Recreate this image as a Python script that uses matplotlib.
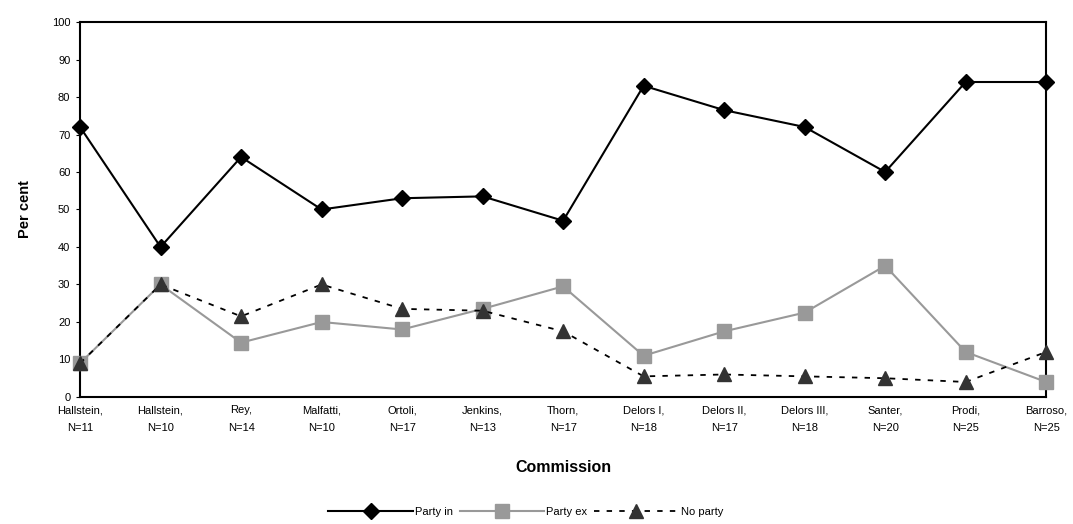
import matplotlib
matplotlib.use("Agg")
import matplotlib.pyplot as plt

plt.rcParams['font.family'] = ['Liberation Sans', 'DejaVu Sans']

commissions = ["Hallstein,\nN=11", "Hallstein,\nN=10", "Rey,\nN=14", "Malfatti,\nN=10",
               "Ortoli,\nN=17", "Jenkins,\nN=13", "Thorn,\nN=17", "Delors I,\nN=18",
               "Delors II,\nN=17", "Delors III,\nN=18", "Santer,\nN=20", "Prodi,\nN=25",
               "Barroso,\nN=25"]
party_in = [72, 40, 64, 50, 53, 53.5, 47, 83, 76.5, 72, 60, 84, 84]
party_ex = [9, 30, 14.5, 20, 18, 23.5, 29.5, 11, 17.5, 22.5, 35, 12, 4]
no_party = [9, 30, 21.5, 30, 23.5, 23, 17.5, 5.5, 6, 5.5, 5, 4, 12]
y_ticks = list(range(0, 101, 10))

fig = plt.figure(figsize=(10.73, 5.24), dpi=100)
ax = fig.add_axes([0.0746, 0.2424, 0.9004, 0.7156])

x = list(range(len(commissions)))
ax.plot(x, party_in, color='black', lw=1.5, marker='D', ms=8, label='Party in', zorder=4, clip_on=False)
ax.plot(x, party_ex, color='#999999', lw=1.5, marker='s', ms=9.5, label='Party ex', zorder=3, clip_on=False)
ax.plot(x, no_party, color='black', lw=1.3, ls=(0, (3, 4)), marker='^', ms=9.5,
        markerfacecolor='#333333', markeredgecolor='#333333', label='No party', zorder=5, clip_on=False)

ax.set_xlim(0, len(commissions) - 1)
ax.set_ylim(0, 100)
ax.set_yticks(y_ticks)
ax.set_yticklabels([str(v) for v in y_ticks], fontsize=8)
ax.set_xticks(x)
ax.set_xticklabels(commissions, fontsize=8, linespacing=1.9)
ax.tick_params(axis='x', length=0, pad=6)
ax.tick_params(axis='y', length=3, direction='out', pad=4)
for s in ax.spines.values():
    s.set_linewidth(1.5)
    s.set_color('black')

ax.set_ylabel('Per cent', fontsize=10.5, fontweight='bold', labelpad=14)
ax.set_xlabel('Commission', fontsize=11.5, fontweight='bold', labelpad=20)

leg = fig.legend(loc='center', bbox_to_anchor=(0.49, 0.023), ncol=3, frameon=False,
                 fontsize=8, handlelength=7.6, columnspacing=0.6, handletextpad=0.2)

fig.savefig('out.png', dpi=100)
